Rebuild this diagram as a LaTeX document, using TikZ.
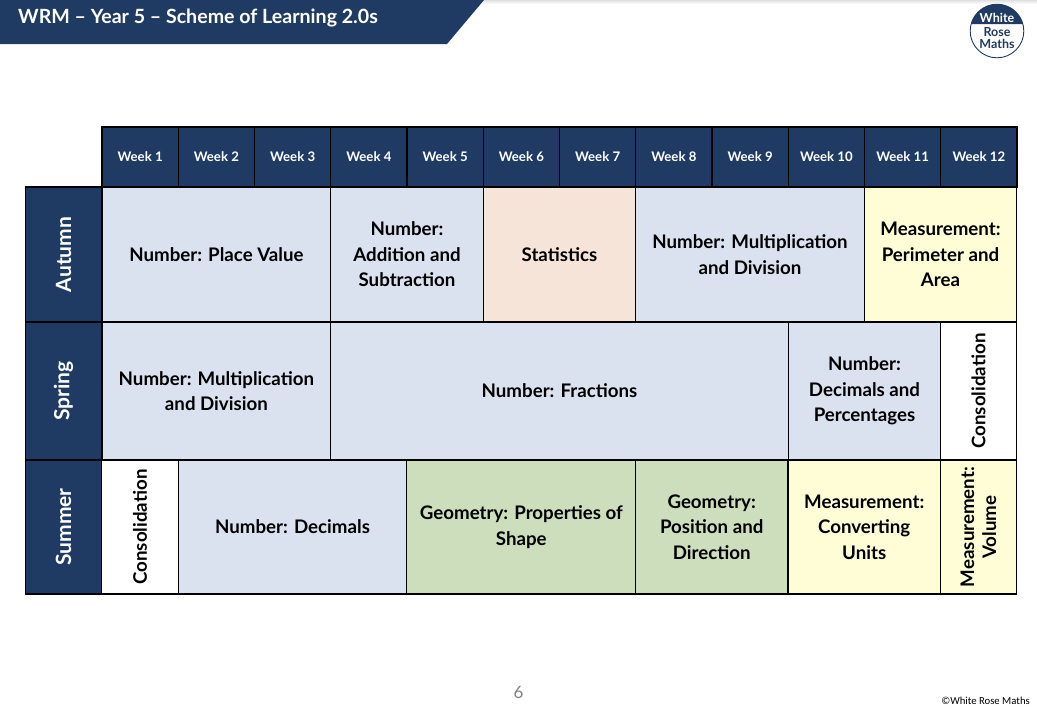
\documentclass[tikz,border=0pt]{standalone}
\usepackage{fontspec}
\setmainfont{Lato}
\newfontfamily\notefont{Carlito}
\usepackage{xcolor}
\definecolor{navy}{HTML}{1F3B63}
\definecolor{numblue}{HTML}{DAE2F0}
\definecolor{statpeach}{HTML}{F6E4D8}
\definecolor{measyellow}{HTML}{FEFDD5}
\definecolor{geomgreen}{HTML}{CCDEBB}
\tikzset{cellbox/.style 2 args={draw=black,line width=1.1pt,inner sep=0pt,minimum width=#1pt,minimum height=#2pt,align=center,font=\bfseries\fontsize{18.7}{25.5}\selectfont},
         weekbox/.style={cellbox={76.2}{60},fill=navy,text=white,font=\bfseries\fontsize{13.2}{15}\selectfont},
         termbox/.style={cellbox={76.5}{#1},fill=navy,text=white},
         termtext/.style={text=white,rotate=90,font=\bfseries\fontsize{21}{24}\selectfont},
         sidetext/.style={rotate=90,align=center,font=\bfseries\fontsize{18.7}{22}\selectfont},
         logotext/.style={inner sep=0pt,font=\bfseries\fontsize{12.5}{14}\selectfont},
         }
\begin{document}
\begin{tikzpicture}[x=1pt,y=-1pt]
\useasboundingbox (0,0) rectangle (1037,710);
\shade[top color=black!12,bottom color=white] (0,0) rectangle (1037,4);
% banner
\fill[navy] (0,0) -- (484,0) -- (447,44) -- (0,44) -- cycle;
\node[anchor=west,text=white,font=\bfseries\fontsize{19.6}{22}\selectfont,inner sep=0pt] (title) at (18,18) {WRM -- Year 5 -- Scheme of Learning 2.0s};
% logo
\fill[navy] (971.1,24) arc (195:345:26.8) -- cycle;
\draw[navy,line width=0.9pt] (997,31) circle (26.8);
\node[logotext,text=white] (white) at (997,18) {White};
\node[logotext,text=navy] (rose) at (997,32) {Rose};
\node[logotext,text=navy] (maths) at (997,44) {Maths};
% week headers
\foreach \w in {1,...,12}
    \node[weekbox] (week\w) at ({102+76.25*(\w-0.5)},157) {Week \w};
% term column
\node[termbox=135] (autumn) at (63.5,254.5) {};
\node[termbox=138] (spring) at (63.5,391) {};
\node[termbox=134] (summer) at (63.5,527) {};
\node[termtext] (autumnlabel) at (autumn) {Autumn};
\node[termtext] (springlabel) at (spring) {Spring};
\node[termtext] (summerlabel) at (summer) {Summer};
% autumn
\node[cellbox={228.8}{135},fill=numblue] (placevalue) at (216.4,254.5) {Number: Place Value};
\node[cellbox={152.5}{135},fill=numblue] (addsub) at (407,254.5) {Number:\\Addition and\\Subtraction};
\node[cellbox={152.5}{135},fill=statpeach] (stats) at (559.5,254.5) {Statistics};
\node[cellbox={228.8}{135},fill=numblue] (muldiva) at (750,254.5) {Number: Multiplication\\and Division};
\node[cellbox={152.5}{135},fill=measyellow] (perimeter) at (940.5,254.5) {Measurement:\\Perimeter and\\Area};
% spring
\node[cellbox={228.8}{138},fill=numblue] (muldivb) at (216.4,391) {Number: Multiplication\\and Division};
\node[cellbox={457.5}{138},fill=numblue] (fractions) at (559.5,391) {Number: Fractions};
\node[cellbox={152.5}{138},fill=numblue] (decpercent) at (864.5,391) {Number:\\Decimals and\\Percentages};
\node[cellbox={76.5}{138},fill=white] (consola) at (978.5,391) {};
\node[sidetext] (consolalabel) at (consola) {Consolidation};
% summer
\node[cellbox={76.2}{134},fill=white] (consolb) at (140,527) {};
\node[sidetext] (consolblabel) at (consolb) {Consolidation};
\node[cellbox={228.8}{134},fill=numblue] (decimals) at (292.5,527) {Number: Decimals};
\node[cellbox={228.8}{134},fill=geomgreen] (shape) at (521.3,527) {Geometry: Properties of\\Shape};
\node[cellbox={152.5}{134},fill=geomgreen] (position) at (711.7,527) {Geometry:\\Position and\\Direction};
\node[cellbox={152.5}{134},fill=measyellow] (converting) at (864.2,527) {Measurement:\\Converting\\Units};
\node[cellbox={76.5}{134},fill=measyellow] (volume) at (978.5,527) {};
\node[sidetext] (volumelabel) at (volume) {Measurement:\\Volume};
% footer
\node[text=black!50,font=\fontsize{17}{19}\selectfont,inner sep=0pt] (pagenum) at (518.5,692) {6};
\node[anchor=east,font=\notefont\fontsize{10.7}{12}\selectfont,inner sep=0pt] (copyright) at (1030,701) {©White Rose Maths};
\end{tikzpicture}
\end{document}
